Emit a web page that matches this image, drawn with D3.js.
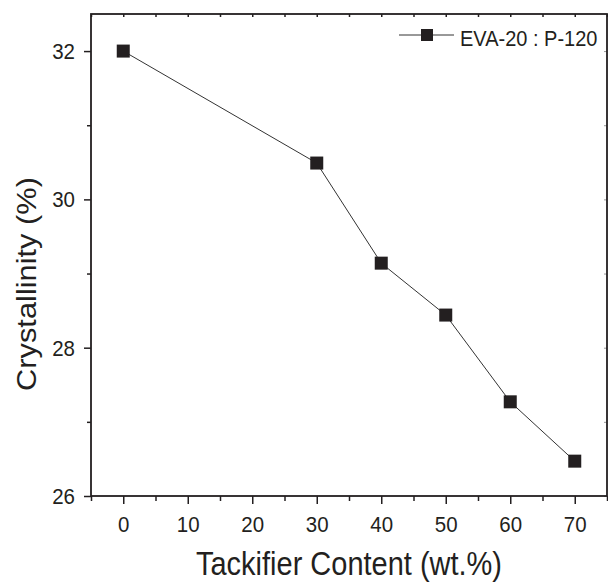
<!DOCTYPE html>
<html>
<head>
<meta charset="utf-8">
<script src="https://cdn.jsdelivr.net/npm/d3@7"></script>
<style>
  body { margin: 0; background: #fff; }
  text { font-family: "Liberation Sans", Arial, sans-serif; fill: #231f20; }
</style>
</head>
<body>
<svg width="608" height="583"></svg>
<script>
// data
const tackifier = [0, 30, 40, 50, 60, 70];
const crystallinity = [32.0, 30.49, 29.14, 28.44, 27.27, 26.47];
const seriesName = "EVA-20 : P-120";
const xMajor = [0, 10, 20, 30, 40, 50, 60, 70];
const xMinor = [-5, 5, 15, 25, 35, 45, 55, 65, 75];
const yMajor = [26, 28, 30, 32];
const yMinor = [27, 29, 31];

const ink = "#231f20";
const stretch = 1.12; // text in the original looks a bit taller than wide

const svg = d3.select("svg");
const pl = 91, pr = 607, pt = 14, pb = 496;

const x = d3.scaleLinear().domain([-5, 75]).range([pl, pr]);
const y = d3.scaleLinear().domain([26, 32.5]).range([pb, pt]);

// minor ticks first
svg.append("g")
  .attr("transform", `translate(0,${pb})`)
  .call(d3.axisBottom(x).tickValues(xMinor).tickSize(5).tickFormat(""))
  .call(g => g.select(".domain").remove());
svg.append("g")
  .attr("transform", `translate(${pl},0)`)
  .call(d3.axisLeft(y).tickValues(yMinor).tickSize(4).tickFormat(""))
  .call(g => g.select(".domain").remove());

// top / right small inner ticks
svg.append("g")
  .attr("transform", `translate(0,${pt})`)
  .call(d3.axisBottom(x).tickValues(xMajor.concat(xMinor)).tickSize(3).tickFormat(""))
  .call(g => g.select(".domain").remove());
svg.append("g")
  .attr("transform", `translate(${pr},0)`)
  .call(d3.axisLeft(y).tickValues(yMajor.concat(yMinor)).tickSize(3).tickFormat(""))
  .call(g => g.select(".domain").remove())
  .selectAll("line").attr("stroke", "#999");

// major ticks with labels
const xAxis = svg.append("g")
  .attr("transform", `translate(0,${pb})`)
  .call(d3.axisBottom(x).tickValues(xMajor).tickSize(8).tickFormat(d3.format("d")));
xAxis.select(".domain").remove();
xAxis.selectAll("text")
  .attr("y", 0).attr("dy", 0)
  .attr("transform", `translate(0,36) scale(1,${stretch})`)
  .style("font-size", "20.5px").attr("fill", ink);

const yAxis = svg.append("g")
  .attr("transform", `translate(${pl},0)`)
  .call(d3.axisLeft(y).tickValues(yMajor).tickSize(7).tickFormat(d3.format("d")));
yAxis.select(".domain").remove();
yAxis.selectAll("text")
  .attr("x", 0).attr("dy", 0)
  .attr("transform", `translate(-16,7.5) scale(1,${stretch})`)
  .style("font-size", "20.5px").attr("fill", ink);

svg.selectAll(".tick line").filter(function () { return this.getAttribute("stroke") === "currentColor"; })
  .attr("stroke", ink).attr("stroke-width", 1.5);

// frame
svg.append("rect")
  .attr("x", pl).attr("y", pt)
  .attr("width", pr - pl).attr("height", pb - pt)
  .attr("fill", "none").attr("stroke", ink).attr("stroke-width", 1.8);

// series
const pts = tackifier.map((t, i) => [t, crystallinity[i]]);
svg.append("path")
  .datum(pts)
  .attr("fill", "none").attr("stroke", "#333").attr("stroke-width", 1)
  .attr("d", d3.line().x(d => x(d[0])).y(d => y(d[1])));

const m = 13;
svg.selectAll(".pt")
  .data(pts)
  .enter()
  .append("rect")
  .attr("class", "pt")
  .attr("x", d => x(d[0]) - m / 2)
  .attr("y", d => y(d[1]) - m / 2)
  .attr("width", m).attr("height", m)
  .attr("fill", ink);

// legend
const lg = svg.append("g").attr("transform", "translate(399,35)");
lg.append("line").attr("x1", 0).attr("x2", 55).attr("y1", 0).attr("y2", 0)
  .attr("stroke", "#333").attr("stroke-width", 1);
lg.append("rect").attr("x", 28 - 6).attr("y", -6).attr("width", 12).attr("height", 12).attr("fill", ink);
lg.append("text")
  .attr("transform", `translate(61,11) scale(1,${stretch})`)
  .style("font-size", "20px")
  .text(seriesName);

// axis titles
svg.append("text")
  .attr("transform", `translate(${(pl + pr) / 2},575) scale(1,${stretch})`)
  .attr("text-anchor", "middle")
  .style("font-size", "29px")
  .text("Tackifier Content (wt.%)");

svg.append("text")
  .attr("transform", `translate(36,284) scale(1,${stretch}) rotate(-90)`)
  .attr("text-anchor", "middle")
  .style("font-size", "27.5px")
  .text("Crystallinity (%)");
</script>
</body>
</html>
